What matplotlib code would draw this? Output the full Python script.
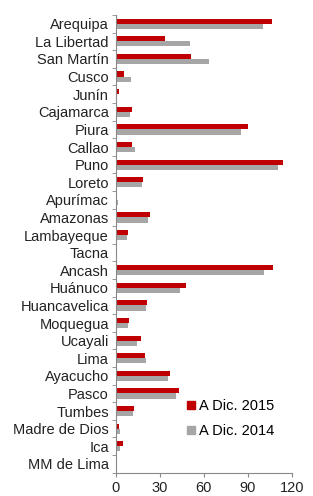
import numpy as np
import matplotlib
matplotlib.use("Agg")
import matplotlib.pyplot as plt
from matplotlib.lines import Line2D

regions = ["Arequipa", "La Libertad", "San Martín", "Cusco", "Junín", "Cajamarca",
           "Piura", "Callao", "Puno", "Loreto", "Apurímac", "Amazonas", "Lambayeque",
           "Tacna", "Ancash", "Huánuco", "Huancavelica", "Moquegua", "Ucayali", "Lima",
           "Ayacucho", "Pasco", "Tumbes", "Madre de Dios", "Ica", "MM de Lima"]
dic_2015 = [106.4, 33.8, 51.1, 5.4, 2.0, 10.9, 90.4, 11.1, 113.9, 18.8, 0.9, 23.6, 8.2,
            0.2, 107.5, 47.7, 21.3, 9.3, 17.2, 19.8, 37.2, 42.9, 12.7, 2.0, 4.8, 0.0]
dic_2014 = [100.4, 50.4, 63.4, 10.4, 1.1, 10.0, 85.4, 13.4, 110.9, 17.7, 1.8, 22.2, 7.7,
            0.0, 100.9, 43.6, 20.9, 8.6, 14.3, 20.7, 35.9, 41.3, 11.6, 2.9, 2.7, 0.0]
x_ticks = [0, 30, 60, 90, 120]

C_RED, C_GRAY = "#C00000", "#A6A6A6"
plt.rcParams["font.family"] = ["Liberation Sans", "DejaVu Sans"]

fig = plt.figure(figsize=(3.13, 4.96), dpi=100)
ax = fig.add_axes([0.3697, 0.047, 0.5623, 0.9228])

y = np.arange(len(regions))
h = 0.29
ax.barh(y - h / 2, dic_2015, height=h, color=C_RED, label="A Dic. 2015")
ax.barh(y + h / 2, dic_2014, height=h, color=C_GRAY, label="A Dic. 2014")

ax.set_ylim(len(regions) - 0.5, -0.5)
ax.set_xlim(0, 120)
ax.set_yticks(y)
ax.set_yticklabels(regions, fontsize=10.5, color="#222222")
ax.set_yticks(np.arange(len(regions) + 1) - 0.5, minor=True)
ax.tick_params(axis="y", which="major", length=0, pad=5)
ax.tick_params(axis="y", which="minor", length=3, color="#888888")
ax.set_xticks(x_ticks)
ax.tick_params(axis="x", length=3, color="#888888", labelsize=10.5, labelcolor="#222222", pad=3)

for s in ("top", "right"):
    ax.spines[s].set_visible(False)
for s in ("left", "bottom"):
    ax.spines[s].set_color("#888888")
    ax.spines[s].set_linewidth(0.8)

handles = [Line2D([], [], marker="s", linestyle="", color=C_RED, markersize=6),
           Line2D([], [], marker="s", linestyle="", color=C_GRAY, markersize=6)]
ax.legend(handles, ["A Dic. 2015", "A Dic. 2014"], loc="upper left",
          bbox_to_anchor=(0.595, 0.195), bbox_transform=fig.transFigure,
          frameon=False, fontsize=10.5, handlelength=0.6, handletextpad=0.3,
          labelspacing=0.75, borderpad=0, borderaxespad=0)

fig.savefig("out.png", dpi=100)
